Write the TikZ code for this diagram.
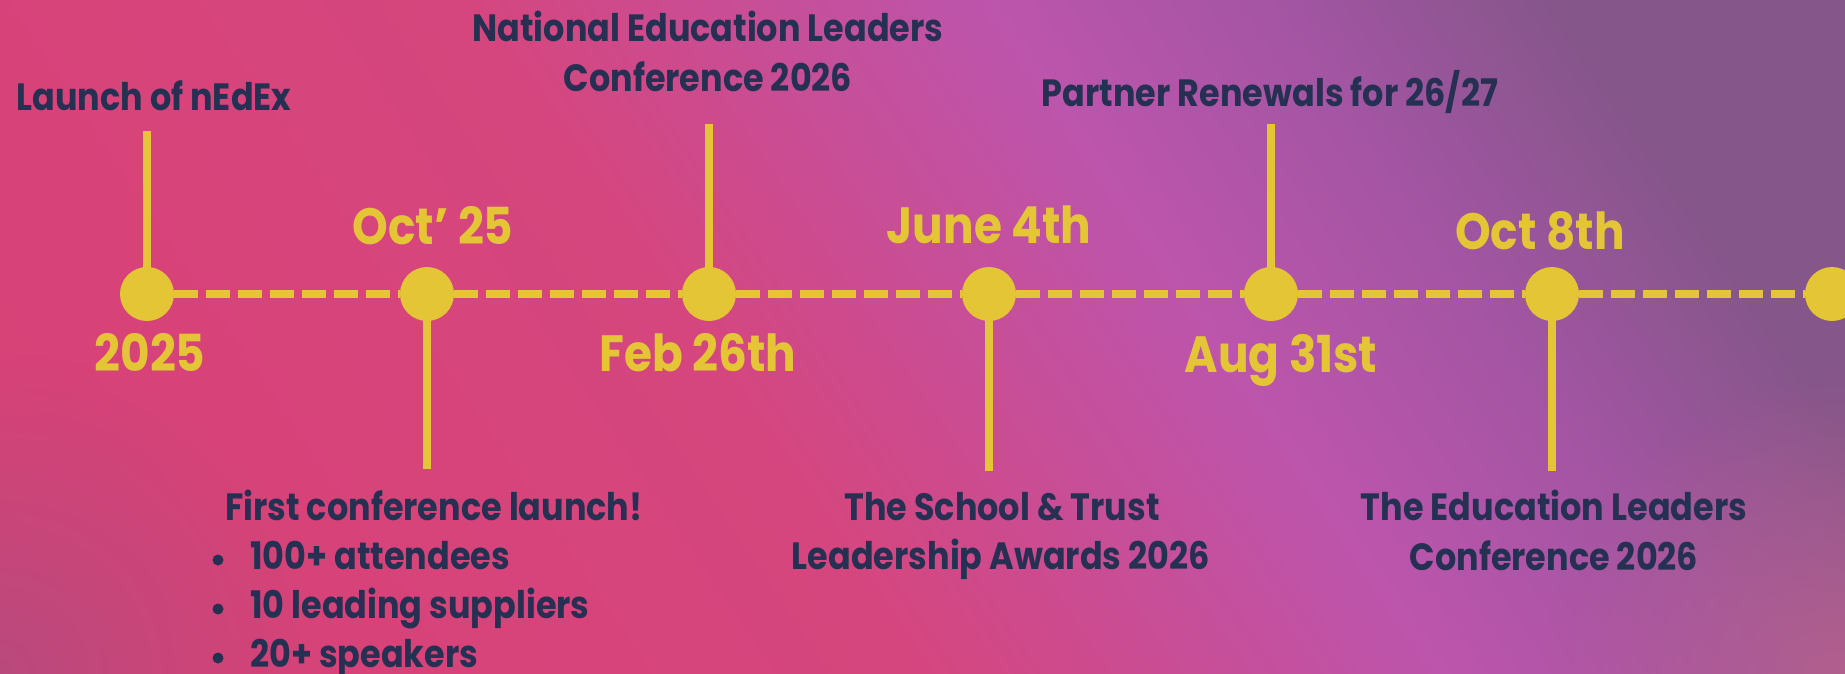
\documentclass[tikz,border=0pt]{standalone}
\usepackage{fontspec}
\setmainfont{Poppins}
\newfontfamily\dkfont{Poppins}[FakeStretch=0.88]
\newfontfamily\ylfont{Poppins}[FakeStretch=0.89]
\usetikzlibrary{fadings}
\definecolor{navy}{HTML}{263052}
\definecolor{gold}{HTML}{E4C535}
\definecolor{bgA}{HTML}{DA3E70}
\definecolor{bgB}{HTML}{D5467E}
\definecolor{bgC}{HTML}{BC55AC}
\definecolor{bgD}{HTML}{A255A2}
\definecolor{bgE}{HTML}{85568A}
\definecolor{dusk}{HTML}{B24C7E}
\definecolor{rose}{HTML}{B8628A}
\pgfdeclarehorizontalshading{bgsh}{100bp}{color(0bp)=(bgA); color(43bp)=(bgB); color(59bp)=(bgC); color(68bp)=(bgD); color(76bp)=(bgE); color(100bp)=(bgE)}
\tikzfading[name=softglow, inner color=transparent!0, outer color=transparent!100]
\tikzset{
  dk/.style={text=navy, font=\dkfont\bfseries\fontsize{38}{38}\selectfont, inner sep=0pt, anchor=base},
  yl/.style={text=gold, font=\ylfont\bfseries\fontsize{51}{51}\selectfont, inner sep=0pt, anchor=base},
  dot/.style={circle, fill=gold, minimum size=54pt, inner sep=0pt},
  stem/.style={draw=gold, line width=8pt},
  dashline/.style={draw=gold, line width=8.5pt, dash pattern=on 24pt off 8pt},
  bul/.style={circle, fill=navy, minimum size=11pt, inner sep=0pt},
}
\begin{document}
\begin{tikzpicture}[x=1pt,y=-1pt]
\useasboundingbox (0,0) rectangle (1845,674);
% background
\fill[shading=bgsh, shading angle=34] (0,0) rectangle (1845,674);
\fill[dusk, path fading=softglow, opacity=0.8] (0,674) circle (320);
\fill[rose, path fading=softglow, opacity=0.8] (1845,674) circle (300);
% timeline dots
\node[dot] (c1) at (147,294) {};
\node[dot] (c2) at (427,294) {};
\node[dot] (c3) at (709,294) {};
\node[dot] (c4) at (989,294) {};
\node[dot] (c5) at (1271,294) {};
\node[dot] (c6) at (1552,294) {};
\node[dot] (c7) at (1832,294) {};
% dashed connectors
\draw[dashline] (c1.east) -- (c2.west);
\draw[dashline] (c2.east) -- (c3.west);
\draw[dashline] (c3.east) -- (c4.west);
\draw[dashline] (c4.east) -- (c5.west);
\draw[dashline] (c5.east) -- (c6.west);
\draw[dashline] (c6.east) -- (c7.west);
% stems
\coordinate (s1) at (147,131);
\coordinate (s2) at (427,469);
\coordinate (s3) at (709,124);
\coordinate (s4) at (989,471);
\coordinate (s5) at (1271,124);
\coordinate (s6) at (1552,471);
\draw[stem] (c1.center) -- (s1);
\draw[stem] (c2.center) -- (s2);
\draw[stem] (c3.center) -- (s3);
\draw[stem] (c4.center) -- (s4);
\draw[stem] (c5.center) -- (s5);
\draw[stem] (c6.center) -- (s6);
% dates
\node[yl] (d1) at (150,371) {2025};
\node[yl] (d2) at (433,244) {Oct’ 25};
\node[yl] (d3) at (698,371) {Feb 26th};
\node[yl] (d4) at (989,243) {June 4th};
\node[yl] (d5) at (1281,372) {Aug 31st};
\node[yl] (d6) at (1540,249) {Oct 8th};
% event labels
\node[dk] (e1) at (154,111) {Launch of nEdEx};
\node[dk] (e3a) at (708,42) {National Education Leaders};
\node[dk] (e3b) at (708,92) {Conference 2026};
\node[dk] (e5) at (1270,107) {Partner Renewals for 26/27};
\node[dk] (e4a) at (1002,520) {The School \& Trust};
\node[dk] (e4b) at (1001,569) {Leadership Awards 2026};
\node[dk] (e6a) at (1554,520) {The Education Leaders};
\node[dk] (e6b) at (1554,570) {Conference 2026};
\node[dk, anchor=base west] (e2) at (225,520) {First conference launch!};
\node[dk, anchor=base west] (b1) at (250,569) {100+ attendees};
\node[dk, anchor=base west] (b2) at (250,618) {10 leading suppliers};
\node[dk, anchor=base west] (b3) at (250,667) {20+ speakers};
\node[bul] (p1) at (218,560) {};
\node[bul] (p2) at (218,609) {};
\node[bul] (p3) at (218,658) {};
\end{tikzpicture}
\end{document}
